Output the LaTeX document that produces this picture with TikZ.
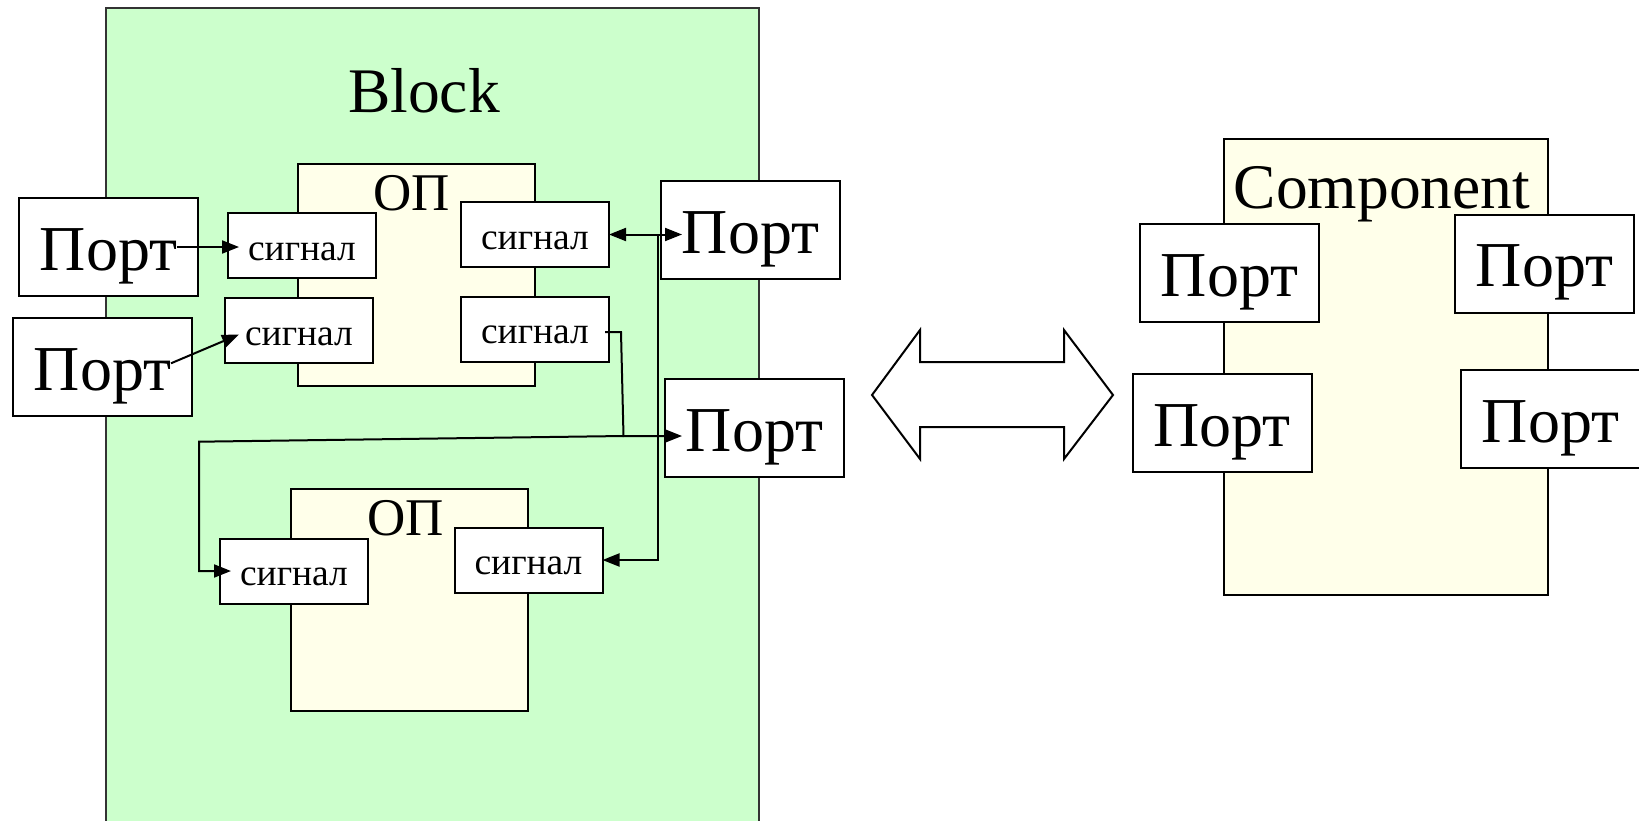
\documentclass[tikz,border=0pt]{standalone}
\usepackage{fontspec}
\setmainfont{Liberation Serif}
\usetikzlibrary{arrows.meta,calc}
\definecolor{blockgreen}{HTML}{CCFFCC}
\definecolor{opyellow}{HTML}{FFFFEA}
\tikzset{
  box/.style={draw=black, line width=2pt, inner sep=0pt, outer sep=0pt},
  portbox/.style={box, fill=white, minimum width=179pt, minimum height=98pt,
    text height=46pt, text depth=0pt, font=\fontsize{64}{70}\selectfont},
  sigbox/.style={box, fill=white, minimum width=148pt, minimum height=65pt,
    text height=29pt, text depth=0pt, font=\fontsize{37.5}{42}\selectfont},
  opbox/.style={box, fill=opyellow},
  bigtext/.style={inner sep=0pt, anchor=base, font=\fontsize{63.5}{70}\selectfont},
  optext/.style={inner sep=0pt, anchor=base, font=\fontsize{53}{60}\selectfont},
  wire/.style={draw=black, line width=2pt},
  tip/.style={-{Triangle[length=17pt,width=13pt]}},
  twotip/.style={{Triangle[length=17pt,width=13pt]}-{Triangle[length=17pt,width=13pt]}},
}
\begin{document}
\begin{tikzpicture}[x=1pt, y=-1pt]
\useasboundingbox (0,0) rectangle (1639,820);

% Block container (runs past the lower edge)
\path[fill=blockgreen] (105.6,8.4) rectangle (759,830);
\draw[line width=2pt, draw=black!80] (105.6,830) -- (105.6,8.4) -- (759,8.4) -- (759,830);
\node[bigtext] (blocklbl) at (424,112) {Block};

% Inner processes
\node[opbox, minimum width=237pt, minimum height=222pt] (op1) at (416.5,275) {};
\node[optext] (op1lbl) at (412,210) {ОП};
\node[opbox, minimum width=237pt, minimum height=222pt] (op2) at (409.5,600) {};
\node[optext] (op2lbl) at (405.5,535) {ОП};

% Signals
\node[sigbox] (s1) at (302,245.5) {сигнал};
\node[sigbox] (s2) at (299,330.5) {сигнал};
\node[sigbox] (s3) at (535,234.5) {сигнал};
\node[sigbox] (s4) at (535,329) {сигнал};
\node[sigbox] (s5) at (294,571) {сигнал};
\node[sigbox] (s6) at (528.5,560) {сигнал};

% Ports of the block
\node[portbox] (p1) at (108.5,247) {Порт};
\node[portbox] (p2) at (102.5,367) {Порт};
\node[portbox] (p3) at (750.5,230) {Порт};
\node[portbox] (p4) at (754.5,428) {Порт};

% Wiring inside the block
\coordinate (a1) at ($(p1.east)+(-21,0)$);
\coordinate (a2) at ($(p2.east)+(-21,-3.7)$);
\coordinate (j1) at (657.5,234.5);
\coordinate (k0) at ($(s4.east)+(-4,3)$);
\coordinate (k1) at (621,332);
\coordinate (k2) at (623.5,436);
\coordinate (k3) at (199,441.7);

\draw[wire, tip] (a1) -- ($(s1.west |- a1)+(11,0)$);
\draw[wire, tip] (a2) -- ($(s2.west)+(14,4)$);
\draw[wire, twotip] (s3.east) -- ($(p3.west)+(21,4.5)$);
\draw[wire, tip] (j1) |- (s6.east);
\draw[wire, tip] (k0) -- (k1) -- (k2) -- ($(p4.west)+(17,8)$);
\draw[wire, tip] (k2) -- (k3) |- ($(s5.west)+(11,0)$);

% Equivalence arrow
\draw[line width=2pt, fill=white, line join=miter]
  (872,395) -- (920,330) -- (920,362) -- (1064,362) -- (1064,330) -- (1113,395)
  -- (1064,459) -- (1064,427) -- (920,427) -- (920,459) -- cycle;

% Component
\node[opbox, minimum width=324pt, minimum height=456pt] (comp) at (1386,367) {};
\node[bigtext] (complbl) at (1382,208.3) {Component};
\node[portbox] (pa) at (1229.5,273) {Порт};
\node[portbox] (pb) at (1222,423) {Порт};
\node[portbox] (pc) at (1544.5,263.5) {Порт};
\node[portbox] (pd) at (1550.5,419) {Порт};
\end{tikzpicture}
\end{document}
